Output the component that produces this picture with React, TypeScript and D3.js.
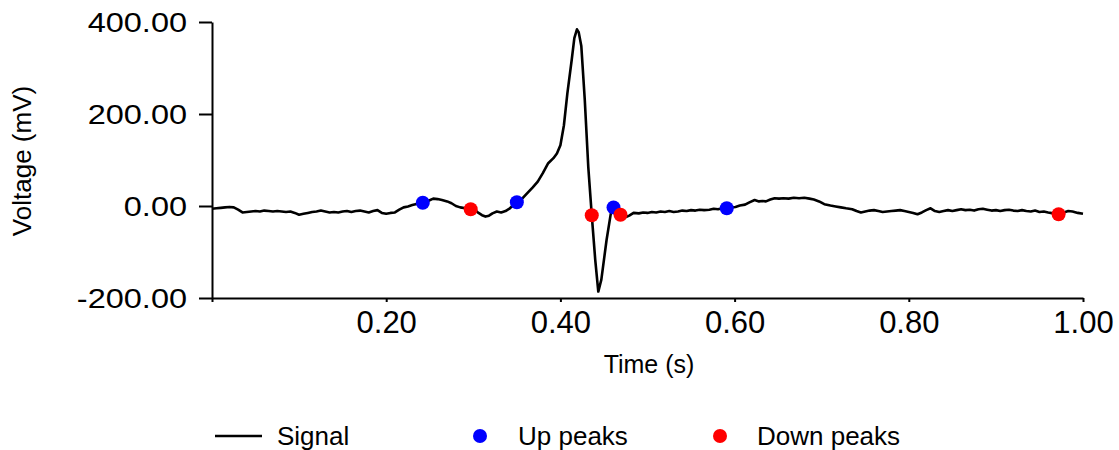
import React, { useEffect, useRef } from 'react';
import * as d3 from 'd3';

// Signal samples (seconds, mV)
const signalTime = [
  0.000, 0.005, 0.010, 0.015, 0.020, 0.025, 0.030, 0.035, 0.040, 0.045,
  0.050, 0.055, 0.060, 0.065, 0.070, 0.075, 0.080, 0.085, 0.090, 0.095,
  0.100, 0.105, 0.110, 0.115, 0.120, 0.125, 0.130, 0.135, 0.140, 0.145,
  0.150, 0.155, 0.160, 0.165, 0.170, 0.175, 0.180, 0.185, 0.190, 0.195,
  0.200, 0.205, 0.210, 0.215, 0.220, 0.225, 0.230, 0.236, 0.242, 0.248,
  0.254, 0.259, 0.264, 0.270, 0.275, 0.280, 0.285, 0.291, 0.297, 0.302,
  0.306, 0.310, 0.314, 0.318, 0.322, 0.327, 0.332, 0.337, 0.342, 0.346,
  0.350, 0.355, 0.362, 0.368, 0.374, 0.380, 0.386, 0.392, 0.396, 0.400,
  0.404, 0.408, 0.413, 0.416, 0.419, 0.421, 0.424, 0.428, 0.432, 0.436,
  0.440, 0.4435, 0.447, 0.453, 0.458, 0.461, 0.465, 0.469, 0.474, 0.479,
  0.484, 0.490, 0.495, 0.500, 0.505, 0.510, 0.515, 0.520, 0.525, 0.530,
  0.535, 0.540, 0.545, 0.550, 0.555, 0.560, 0.565, 0.571, 0.576, 0.581,
  0.586, 0.591, 0.596, 0.601, 0.606, 0.612, 0.617, 0.623, 0.628, 0.632,
  0.636, 0.641, 0.646, 0.651, 0.656, 0.662, 0.668, 0.674, 0.680, 0.686,
  0.691, 0.697, 0.703, 0.710, 0.716, 0.722, 0.728, 0.735, 0.740, 0.745,
  0.750, 0.755, 0.760, 0.765, 0.770, 0.775, 0.780, 0.785, 0.790, 0.795,
  0.800, 0.805, 0.810, 0.815, 0.820, 0.825, 0.830, 0.835, 0.840, 0.845,
  0.850, 0.855, 0.860, 0.865, 0.870, 0.875, 0.880, 0.885, 0.890, 0.895,
  0.900, 0.905, 0.910, 0.915, 0.920, 0.925, 0.930, 0.935, 0.940, 0.945,
  0.950, 0.955, 0.960, 0.966, 0.972, 0.978, 0.983, 0.988, 0.994, 1.000,
];
const signalVoltage = [
  -6, -5, -4, -3, -2, -3, -8, -14, -13, -12,
  -11, -12, -10, -11, -12, -11, -12, -13, -12, -15,
  -19, -17, -15, -13, -12, -10, -12, -14, -13, -14,
  -12, -11, -13, -11, -10, -12, -14, -11, -9, -15,
  -17, -15, -14, -8, -3, -1, 2, 5, 7, 11,
  16, 15, 13, 10, 6, 0, -3, -5, -7, -9,
  -15, -20, -23, -21, -16, -12, -14, -11, -5, 2,
  8, 14, 28, 40, 53, 72, 93, 104, 114, 132,
  175, 245, 318, 365, 384, 378, 348, 230, 85, -20,
  -117, -186, -160, -74, -15, -3, -12, -19, -25, -21,
  -15, -16, -14, -15, -13, -14, -12, -13, -11, -13,
  -12, -10, -11, -9, -10, -8, -9, -8, -6, -7,
  -5, -5, -3, -2, 1, 3, 8, 13, 10, 11,
  10, 14, 17, 16, 17, 16, 18, 17, 18, 16,
  14, 10, 4, 1, -1, -3, -5, -7, -11, -14,
  -12, -10, -9, -11, -13, -12, -11, -10, -9, -11,
  -13, -15, -18, -14, -9, -5, -11, -13, -11, -9,
  -11, -9, -7, -9, -8, -10, -7, -6, -8, -10,
  -9, -11, -9, -8, -10, -11, -9, -11, -12, -10,
  -13, -12, -14, -16, -18, -14, -11, -12, -15, -17,
];

const upPeakTime = [0.242, 0.350, 0.461, 0.591];
const upPeakVoltage = [7, 8, -3, -5];
const downPeakTime = [0.297, 0.436, 0.469, 0.972];
const downPeakVoltage = [-7, -20, -19, -18];

const xTicks = [0, 0.2, 0.4, 0.6, 0.8, 1.0];
const yTicks = [-200, 0, 200, 400];
const legendLabels = ['Signal', 'Up peaks', 'Down peaks'];

const FONT = '"Liberation Sans", Arial, sans-serif';
const fmt = (v: number) => d3.format('.2f')(v).replace('\u2212', '-');

function App() {
  const svgRef = useRef<SVGSVGElement>(null);

  useEffect(() => {
    const width = 1119;
    const height = 450;
    const plot = { left: 212, right: 1083, top: 22, bottom: 298 };

    const svg = d3.select(svgRef.current)
      .attr('width', width)
      .attr('height', height);
    svg.selectAll('*').remove();

    const x = d3.scaleLinear().domain([0, 1]).range([plot.left, plot.right]);
    const y = d3.scaleLinear().domain([-200, 400]).range([plot.bottom, plot.top]);

    // Y axis
    const yAxis = svg.append('g')
      .attr('transform', `translate(${plot.left},0)`)
      .call(d3.axisLeft(y).tickValues(yTicks).tickSize(13).tickSizeOuter(0).tickFormat(() => ''));
    yAxis.selectAll('line, path').attr('stroke', '#000').attr('stroke-width', 2);

    svg.append('g')
      .selectAll('g')
      .data(yTicks)
      .enter()
      .append('g')
      .attr('transform', d => `translate(187,${y(d) + 9.5}) scale(1.16,1)`)
      .append('text')
      .attr('text-anchor', 'end')
      .attr('font-family', FONT)
      .attr('font-size', 28)
      .attr('fill', '#000')
      .text(d => fmt(d));

    // X axis
    const xAxis = svg.append('g')
      .attr('transform', `translate(0,${plot.bottom})`)
      .call(d3.axisBottom(x).tickValues(xTicks).tickSize(4).tickSizeOuter(0)
        .tickFormat(d => (+d === 0 ? '' : fmt(+d))));
    xAxis.selectAll('line, path').attr('stroke', '#000').attr('stroke-width', 2);
    xAxis.selectAll('text')
      .attr('font-family', FONT)
      .attr('font-size', 31)
      .attr('fill', '#000')
      .attr('y', 35)
      .attr('dy', 0);

    // Axis titles
    svg.append('text')
      .attr('x', 649)
      .attr('y', 373)
      .attr('text-anchor', 'middle')
      .attr('font-family', FONT)
      .attr('font-size', 25)
      .text('Time (s)');

    svg.append('text')
      .attr('transform', 'translate(31,161) rotate(-90)')
      .attr('text-anchor', 'middle')
      .attr('font-family', FONT)
      .attr('font-size', 26)
      .text('Voltage (mV)');

    // Signal line
    const line = d3.line<number>()
      .x((_, i) => x(signalTime[i]))
      .y(d => y(d));

    svg.append('path')
      .datum(signalVoltage)
      .attr('fill', 'none')
      .attr('stroke', '#000')
      .attr('stroke-width', 2.6)
      .attr('stroke-linejoin', 'round')
      .attr('d', line);

    // Peaks
    svg.append('g')
      .selectAll('circle')
      .data(upPeakVoltage)
      .enter()
      .append('circle')
      .attr('cx', (_, i) => x(upPeakTime[i]))
      .attr('cy', d => y(d))
      .attr('r', 7)
      .attr('fill', '#0000ff');

    svg.append('g')
      .selectAll('circle')
      .data(downPeakVoltage)
      .enter()
      .append('circle')
      .attr('cx', (_, i) => x(downPeakTime[i]))
      .attr('cy', d => y(d))
      .attr('r', 7)
      .attr('fill', '#ff0000');

    // Legend
    const legendY = 436;
    const legend = svg.append('g');
    legend.append('line')
      .attr('x1', 215).attr('x2', 262)
      .attr('y1', legendY).attr('y2', legendY)
      .attr('stroke', '#000')
      .attr('stroke-width', 2.5);
    legend.append('circle').attr('cx', 480).attr('cy', legendY).attr('r', 7).attr('fill', '#0000ff');
    legend.append('circle').attr('cx', 720).attr('cy', legendY).attr('r', 7).attr('fill', '#ff0000');

    const legendX = [277, 518, 757];
    legend.selectAll('text')
      .data(legendLabels)
      .enter()
      .append('text')
      .attr('x', (_, i) => legendX[i])
      .attr('y', legendY + 9)
      .attr('font-family', FONT)
      .attr('font-size', 26)
      .attr('fill', '#000')
      .text(d => d);
  }, []);

  return (
    <svg
      ref={svgRef}
      style={{ position: 'absolute', left: 0, top: 0, background: '#fff' }}
    />
  );
}

export default App;
